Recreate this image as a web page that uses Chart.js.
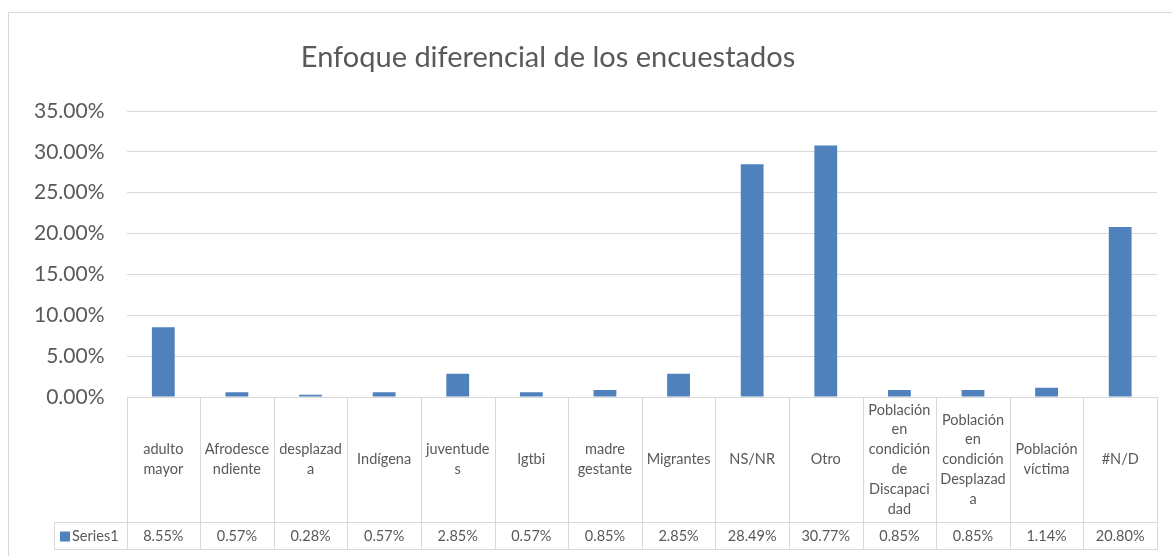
<!DOCTYPE html>
<html>
<head>
<meta charset="utf-8">
<script src="https://cdn.jsdelivr.net/npm/chart.js@4"></script>
<style>
  html, body { margin: 0; padding: 0; background: #fff; }
  #wrap { position: relative; width: 1172px; height: 556px; }
</style>
</head>
<body>
<div id="wrap"><canvas id="chart" width="1172" height="556"></canvas></div>
<script>
// datos del gráfico
const categories = [
    ['adulto', 'mayor'], ['Afrodesce', 'ndiente'], ['desplazad', 'a'], ['Indígena'],
    ['juventude', 's'], ['lgtbi'], ['madre', 'gestante'], ['Migrantes'], ['NS/NR'], ['Otro'],
    ['Población', 'en', 'condición', 'de', 'Discapaci', 'dad'],
    ['Población', 'en', 'condición', 'Desplazad', 'a'],
    ['Población', 'víctima'], ['#N/D']
];
const series1 = [8.55, 0.57, 0.28, 0.57, 2.85, 0.57, 0.85, 2.85, 28.49, 30.77, 0.85, 0.85, 1.14, 20.80];
const seriesName = 'Series1';
const yTicks = [0, 5, 10, 15, 20, 25, 30, 35];
const chartTitle = 'Enfoque diferencial de los encuestados';

const BAR = '#4F81BD';
const GRID = '#D9D9D9';
const TEXT = '#595959';
const FONT = 'Lato, "Open Sans", sans-serif';

// borde, título y tabla de datos debajo del eje
const dataTablePlugin = {
    id: 'dataTable',
    afterDraw(chart) {
        const ctx = chart.ctx;
        const x = chart.scales.x;
        const area = chart.chartArea;
        const n = categories.length;
        const step = (area.right - area.left) / n;
        const top = area.bottom;
        const mid = top + 125;
        const bot = mid + 27;
        const legendLeft = 54;

        ctx.save();
        ctx.strokeStyle = GRID;
        ctx.lineWidth = 1;

        // borde exterior
        ctx.beginPath();
        ctx.moveTo(8.5, 556);
        ctx.lineTo(8.5, 12.5);
        ctx.lineTo(1172, 12.5);
        ctx.stroke();

        // título
        ctx.fillStyle = TEXT;
        ctx.textAlign = 'center';
        ctx.textBaseline = 'middle';
        ctx.font = '29px ' + FONT;
        ctx.fillText(chartTitle, 548, 58);

        // líneas de la tabla
        ctx.beginPath();
        ctx.moveTo(area.left, Math.round(top) + 0.5);
        ctx.lineTo(area.right, Math.round(top) + 0.5);
        ctx.moveTo(legendLeft, Math.round(mid) + 0.5);
        ctx.lineTo(area.right, Math.round(mid) + 0.5);
        ctx.moveTo(legendLeft, Math.round(bot) + 0.5);
        ctx.lineTo(area.right, Math.round(bot) + 0.5);
        ctx.moveTo(legendLeft + 0.5, Math.round(mid));
        ctx.lineTo(legendLeft + 0.5, Math.round(bot) + 1);
        for (let i = 0; i <= n; i++) {
            const lx = Math.round(area.left + i * step) + 0.5;
            ctx.moveTo(lx, Math.round(top));
            ctx.lineTo(lx, Math.round(bot) + 1);
        }
        ctx.stroke();

        // etiquetas de categoría
        ctx.font = '14.5px ' + FONT;
        const lh = 19.8;
        categories.forEach((lines, i) => {
            const cx = x.getPixelForValue(i);
            const cy = (top + mid) / 2;
            const y0 = cy - (lines.length - 1) * lh / 2;
            lines.forEach((t, j) => ctx.fillText(t, cx, y0 + j * lh));
        });

        // valores
        const vy = (mid + bot) / 2 + 1;
        series1.forEach((v, i) => {
            ctx.fillText(v.toFixed(2) + '%', x.getPixelForValue(i), vy);
        });

        // leyenda
        ctx.fillStyle = BAR;
        ctx.fillRect(60, vy - 5, 10, 10);
        ctx.fillStyle = TEXT;
        ctx.textAlign = 'left';
        ctx.fillText(seriesName, 72, vy);
        ctx.restore();
    }
};

new Chart(document.getElementById('chart'), {
    type: 'bar',
    data: {
        labels: categories.map(c => c.join(' ')),
        datasets: [{
            label: seriesName,
            data: series1,
            backgroundColor: BAR,
            borderWidth: 0,
            categoryPercentage: 1,
            barPercentage: 0.31
        }]
    },
    options: {
        responsive: false,
        animation: false,
        layout: { padding: { left: 12, right: 15, top: 111, bottom: 151 } },
        plugins: {
            legend: { display: false },
            tooltip: { enabled: false },
            title: { display: false }
        },
        scales: {
            x: {
                ticks: { display: false },
                grid: { display: false },
                border: { display: false }
            },
            y: {
                min: 0,
                max: 35,
                afterBuildTicks: (axis) => { axis.ticks = yTicks.map(v => ({ value: v })); },
                ticks: {
                    color: TEXT,
                    font: { family: FONT, size: 21 },
                    padding: 22,
                    callback: (v) => Number(v).toFixed(2) + '%'
                },
                grid: { color: GRID, drawTicks: false },
                border: { display: false }
            }
        }
    },
    plugins: [dataTablePlugin]
});
</script>
</body>
</html>
